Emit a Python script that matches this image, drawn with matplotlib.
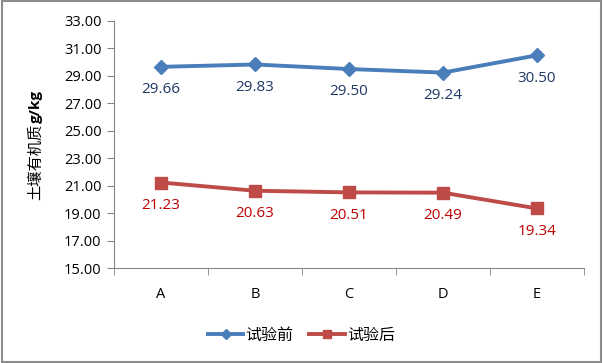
import matplotlib
matplotlib.use("Agg")
import matplotlib.pyplot as plt
from matplotlib.patches import Rectangle

plt.rcParams['font.family'] = ['Noto Sans CJK SC', 'DejaVu Sans']

categories = ['A', 'B', 'C', 'D', 'E']
before = [29.66, 29.83, 29.50, 29.24, 30.50]
after = [21.23, 20.63, 20.51, 20.49, 19.34]
series_names = ['试验前', '试验后']
ylabel_cn = '土壤有机质'
ylabel_unit = 'g/kg'

fig = plt.figure(figsize=(6.03, 3.63), dpi=100)
ax = fig.add_axes([114/603, 1-268/363, 470/603, 247/363])

x = list(range(len(categories)))
ax.plot(x, before, color='#4A7EBB', lw=2.8, marker='D', ms=7, label=series_names[0])
ax.plot(x, after, color='#BE4B48', lw=2.8, marker='s', ms=8, label=series_names[1])

for xi, v in zip(x, before):
    ax.annotate(f'{v:.2f}', (xi, v), xytext=(0, -11), textcoords='offset points',
                ha='center', va='top', color='#1F3864', fontsize=11, family='Open Sans')
for xi, v in zip(x, after):
    ax.annotate(f'{v:.2f}', (xi, v), xytext=(0, -11), textcoords='offset points',
                ha='center', va='top', color='#C00000', fontsize=11, family='Open Sans')

ax.set_xlim(-0.5, len(categories) - 0.5)
ax.set_ylim(15, 33)
ax.set_yticks([15 + 2*i for i in range(10)])
ax.set_yticklabels([f'{15 + 2*i:.2f}' for i in range(10)], family='Open Sans', fontsize=10.5)
ax.set_xticks(x)
ax.set_xticklabels(categories, family='Open Sans', fontsize=10.5)
ax.tick_params(axis='x', length=0, pad=14)
ax.set_xticks([i - 0.5 for i in range(len(categories) + 1)], minor=True)
ax.tick_params(axis='x', which='minor', length=5, color='#868686', direction='out')
ax.tick_params(axis='y', length=5, color='#868686', direction='out', pad=4)

for s in ['top', 'right']:
    ax.spines[s].set_visible(False)
for s in ['left', 'bottom']:
    ax.spines[s].set_color('#868686')

# y label: Chinese part regular, unit bold
t1 = fig.text(36/603, 1 - 200/363, ylabel_cn, rotation=90, ha='center', va='bottom',
              fontsize=11)
fig.canvas.draw()
bb = t1.get_window_extent()
top = bb.y1 / fig.bbox.height
fig.text(36/603, top + 0.003, ylabel_unit, rotation=90, ha='center', va='bottom',
         fontsize=11, fontweight='bold', family='Open Sans')

handles, labels = ax.get_legend_handles_labels()
fig.legend(handles, labels, loc='center', bbox_to_anchor=(0.5, 1 - 335/363), ncol=2,
           frameon=False, fontsize=11.5, handlelength=2.2, columnspacing=1.0,
           handletextpad=0.15, markerscale=0.8)

fig.patches.append(Rectangle((0.003, 0.003), 0.994, 0.994, transform=fig.transFigure,
                             fill=False, edgecolor='#8C8C8C', lw=1.5))

fig.savefig('out.png', dpi=100)
